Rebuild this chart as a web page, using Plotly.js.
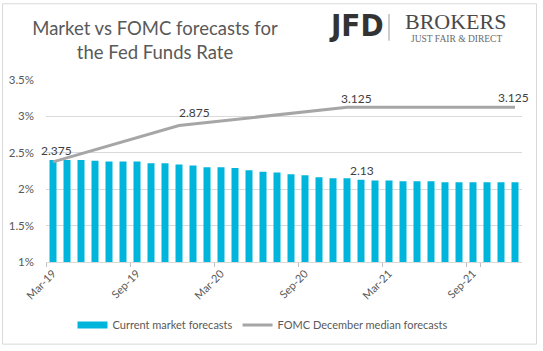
<!DOCTYPE html>
<html><head><meta charset="utf-8">
<script src="https://cdn.plot.ly/plotly-3.0.1.min.js"></script>
<style>html,body{margin:0;padding:0;background:#fff}#chart{width:543px;height:351px}</style>
</head><body><div id="chart"></div>
<script>
const months = ["Mar-19","Apr-19","May-19","Jun-19","Jul-19","Aug-19","Sep-19","Oct-19","Nov-19","Dec-19",
  "Jan-20","Feb-20","Mar-20","Apr-20","May-20","Jun-20","Jul-20","Aug-20","Sep-20","Oct-20","Nov-20","Dec-20",
  "Jan-21","Feb-21","Mar-21","Apr-21","May-21","Jun-21","Jul-21","Aug-21","Sep-21","Oct-21","Nov-21","Dec-21"];
const marketValues = [2.40,2.40,2.40,2.39,2.38,2.38,2.38,2.355,2.355,2.34,
  2.325,2.30,2.30,2.29,2.26,2.24,2.23,2.205,2.19,2.165,2.15,2.15,
  2.13,2.12,2.12,2.11,2.11,2.11,2.095,2.095,2.095,2.095,2.095,2.095];
const fomcMonths = ["Mar-19","Dec-19","Dec-20","Dec-21"];
const fomcValues = [2.375,2.875,3.125,3.125];
const tickMonths = ["Mar-19","Sep-19","Mar-20","Sep-20","Mar-21","Sep-21"];
const yTicks = [1,1.5,2,2.5,3,3.5];
const yTickText = ["1%","1.5%","2%","2.5%","3%","3.5%"];
const labelledBar = "Jan-21";
const seriesNames = ["Current market forecasts","FOMC December median forecasts"];

const W = 543, H = 351, L = 46, R = 21, T = 80, B = 86;
const pw = W - L - R, ph = H - T - B;
const px = x => (x - L) / pw;
const py = y => (H - B - y) / ph;

const txt = "#595959";
const FONT = "Lato, 'Open Sans', sans-serif";
const barColor = "#00b5dc", lineColor = "#a6a6a6";

const fomcShift = [[3, 11], [15, 13], [9, 9], [-2, 10]];
const annotations = fomcMonths.map((m, i) => ({
  x: m, y: fomcValues[i], xref: "x", yref: "y", text: String(fomcValues[i]),
  showarrow: false, xanchor: "center", yanchor: "middle",
  xshift: fomcShift[i][0], yshift: fomcShift[i][1],
  font: {family: FONT, size: 12, color: "#404040"}
}));
const bi = months.indexOf(labelledBar);
annotations.push({
  x: labelledBar, y: marketValues[bi], xref: "x", yref: "y", text: String(marketValues[bi]),
  showarrow: false, xanchor: "center", yanchor: "middle", xshift: 1, yshift: 9,
  font: {family: FONT, size: 12, color: "#404040"}
});
// logo
annotations.push({x: px(356), y: py(24), xref: "paper", yref: "paper", text: "<b>JFD</b>", showarrow: false,
  xanchor: "center", yanchor: "middle", font: {family: "'DejaVu Sans Condensed', 'DejaVu Sans'", size: 31, color: "#333"}});
annotations.push({x: px(455), y: py(21), xref: "paper", yref: "paper", text: "BROKERS", showarrow: false,
  xanchor: "center", yanchor: "middle", font: {family: "'Liberation Serif', serif", size: 22, color: "#4a4a4a"}});
annotations.push({x: px(456), y: py(38), xref: "paper", yref: "paper", text: "JUST FAIR &amp; DIRECT", showarrow: false,
  xanchor: "center", yanchor: "middle", font: {family: "'Liberation Serif', serif", size: 9.5, color: "#6a6a6a"}});

const shapes = [
  {type: "rect", xref: "paper", yref: "paper", x0: px(2.5), x1: px(536.5), y0: py(348.5), y1: py(2.5),
   line: {color: "#d9d9d9", width: 1}, layer: "below"},
  {type: "line", xref: "paper", yref: "paper", x0: px(389), x1: px(389), y0: py(13), y1: py(40),
   line: {color: "#9a9a9a", width: 1}}
];

const data = [
  {type: "bar", name: seriesNames[0], x: months, y: marketValues, showlegend: false,
   marker: {color: barColor}, hoverinfo: "skip"},
  {type: "scatter", mode: "lines", name: seriesNames[1], x: fomcMonths, y: fomcValues, showlegend: false,
   line: {color: lineColor, width: 3}, hoverinfo: "skip"},
  // legend-only entries (Excel-style wide swatches)
  {type: "scatter", mode: "lines", name: seriesNames[0], x: [null], y: [null],
   line: {color: barColor, width: 7}, hoverinfo: "skip"},
  {type: "scatter", mode: "lines", name: seriesNames[1], x: [null], y: [null],
   line: {color: lineColor, width: 3}, hoverinfo: "skip"}
];

const layout = {
  width: W, height: H,
  margin: {l: L, r: R, t: T, b: B, pad: 0},
  paper_bgcolor: "#fff", plot_bgcolor: "#fff",
  font: {family: FONT, color: txt, size: 12},
  title: {text: "Market vs FOMC forecasts for<br>the Fed Funds Rate", x: 155 / W, xanchor: "center",
          xref: "container", yref: "container", y: 1 - 35 / H, yanchor: "middle",
          font: {family: FONT, size: 18.5, color: txt}},
  bargap: 0.5,
  showlegend: true,
  legend: {orientation: "h", x: px(263), xanchor: "center", y: py(329), yanchor: "middle",
           font: {family: FONT, size: 11, color: txt}, bgcolor: "rgba(0,0,0,0)", itemwidth: 30},
  xaxis: {type: "category", range: [-0.5, months.length - 0.5], tickvals: tickMonths, ticktext: tickMonths,
          tickangle: -45, tickson: "boundaries", ticks: "outside", ticklen: 4, tickcolor: "#bfbfbf",
          showline: true, linecolor: "#d9d9d9", showgrid: false, zeroline: false,
          tickfont: {family: FONT, size: 11, color: txt}, fixedrange: true},
  yaxis: {range: [1, 3.5], tickvals: yTicks, ticktext: yTickText, showgrid: true, gridcolor: "#d9d9d9",
          gridwidth: 1, zeroline: false, showline: false, ticks: "", ticklabelstandoff: 11,
          tickfont: {family: FONT, size: 11.5, color: txt}, fixedrange: true},
  annotations: annotations,
  shapes: shapes
};

Plotly.newPlot("chart", data, layout, {staticPlot: true, displayModeBar: false});
</script>
</body></html>
